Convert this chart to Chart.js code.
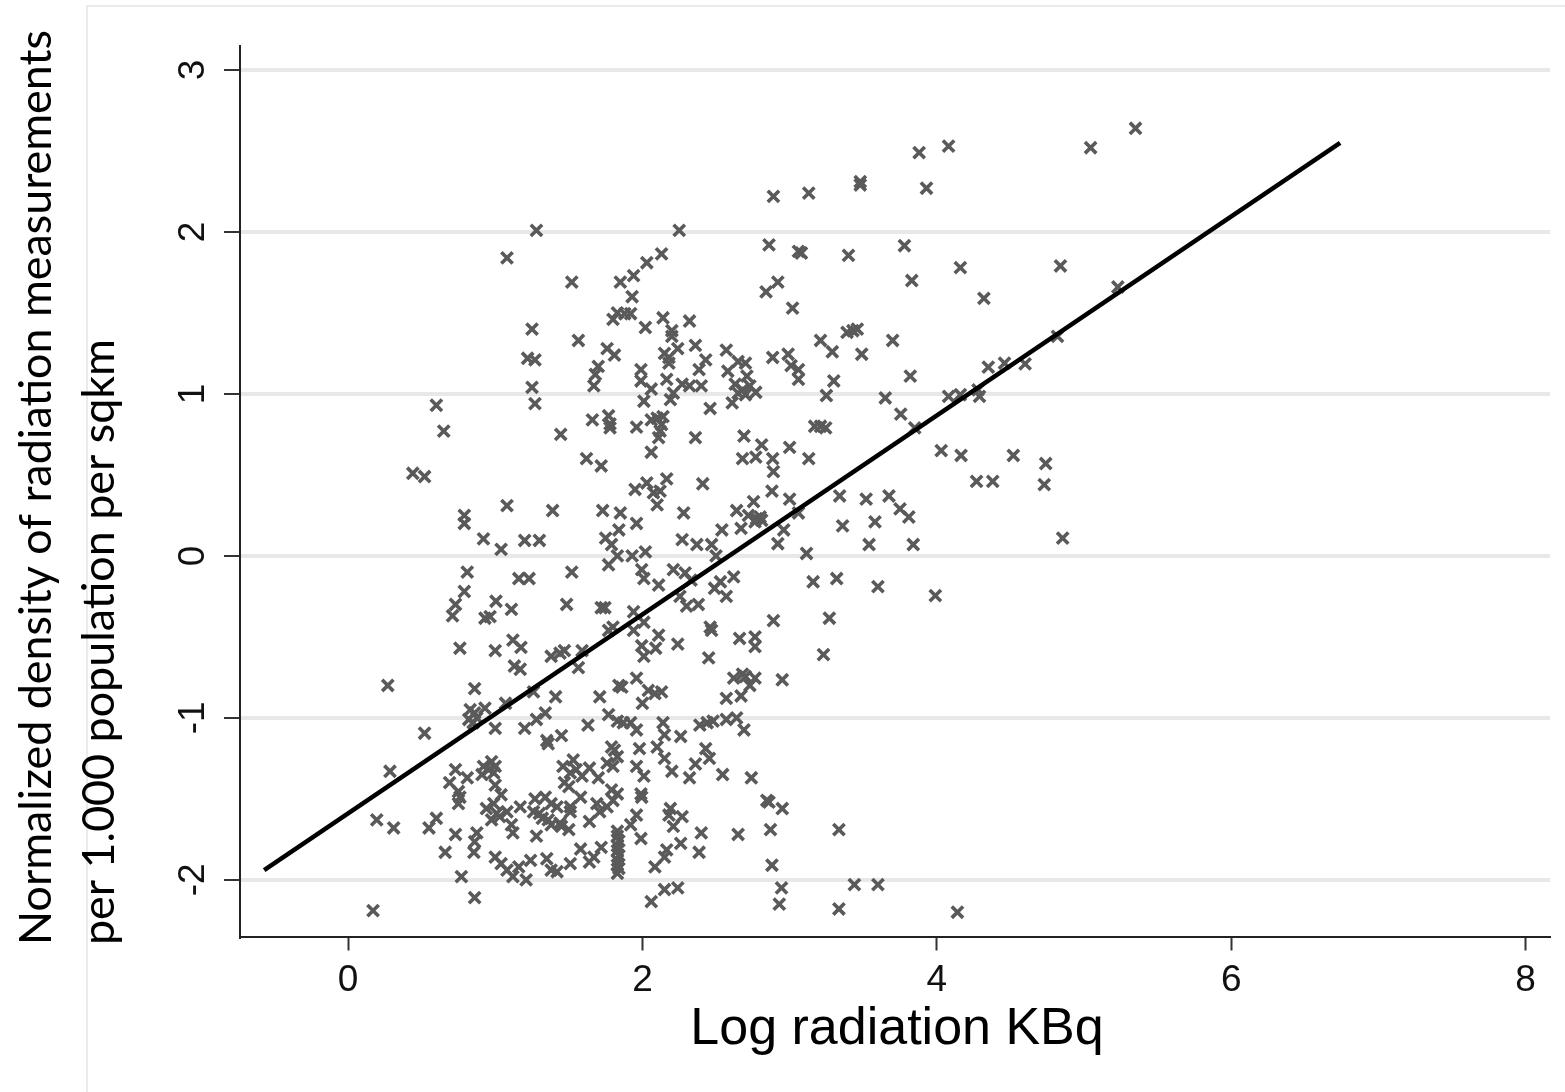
<!DOCTYPE html>
<html><head><meta charset="utf-8">
<script src="https://cdn.jsdelivr.net/npm/chart.js@4"></script>
<style>html,body{margin:0;padding:0;background:#fff}#wrap{width:1565px;height:1092px;position:relative}</style>
</head><body><div id="wrap"><canvas id="c" width="1565" height="1092"></canvas></div>
<script>
const radiationLog = [
1.28,1.08,1.52,1.85,1.25,1.565,1.80,1.83,1.76,1.81,1.22,1.27,1.70,1.68,1.25,1.67,
2.89,3.13,3.48,3.48,2.25,2.86,3.06,3.08,3.40,2.13,2.03,1.94,1.93,2.92,2.84,3.02,1.88,1.92,2.14,2.32,2.02,2.20,2.20,3.21,3.39,3.43,3.46,3.29,3.49,2.24,2.15,2.18,2.18,2.36,2.57,2.43,2.385,1.99,1.99,2.06,2.165,2.27,2.32,2.40,2.21,2.58,2.65,2.70,2.71,2.63,2.68,2.73,2.77,2.70,2.65,2.885,2.99,3.01,3.06,3.06,3.30,3.25,
3.88,4.08,3.93,5.045,5.35,3.78,3.83,4.16,4.32,4.84,5.23,3.70,3.82,4.35,4.46,4.60,4.82,3.65,4.08,4.16,4.28,4.29,
0.60,0.65,0.44,0.52,1.27,1.66,1.77,1.78,1.78,1.445,1.62,1.72,1.08,1.39,1.73,0.79,0.79,0.92,1.04,1.20,1.30,1.75,1.79,1.77,0.81,1.16,1.23,1.52,0.79,0.73,0.71,1.005,1.11,0.93,0.965,1.485,1.72,1.745,0.76,1.0,1.12,1.175,1.38,1.44,1.47,1.59,1.77,1.80,1.85,1.84,1.83,
2.01,2.19,2.46,2.61,1.96,2.06,2.10,2.14,2.13,2.12,2.11,2.06,2.36,2.69,2.81,2.68,2.77,2.885,2.89,3.0,3.13,3.17,3.21,3.245,2.88,3.0,1.95,2.03,2.075,2.12,2.10,2.165,2.41,1.96,2.28,2.64,2.755,2.72,2.775,2.80,2.81,2.765,2.67,2.54,2.27,2.37,2.47,2.50,2.92,2.96,3.06,3.34,3.52,3.36,3.58,3.54,3.115,1.93,2.02,1.995,2.01,2.11,2.21,2.29,2.33,2.255,2.30,2.38,2.49,2.53,2.57,2.62,3.16,3.32,3.60,1.94,2.01,1.94,2.46,2.47,2.89,3.27,2.11,2.09,2.24,1.995,2.01,2.66,2.765,2.765,3.23,2.45,
3.755,3.85,4.03,4.165,4.52,4.74,4.27,4.38,4.73,3.675,3.75,3.81,3.84,4.855,3.99,
0.27,0.86,1.13,1.17,1.565,1.26,1.41,1.71,1.84,0.83,0.86,0.82,0.85,0.875,0.93,1.07,1.0,1.20,0.52,1.28,1.34,1.35,1.36,1.45,1.63,1.77,1.83,1.81,0.285,0.73,0.81,0.69,0.75,0.76,0.75,0.92,0.975,1.0,0.955,0.99,0.91,1.0,1.04,0.94,0.99,1.01,0.975,1.03,1.08,1.17,1.11,1.12,0.875,0.86,0.855,0.73,0.55,0.60,0.195,0.31,0.66,0.77,0.86,0.17,1.0,1.04,1.08,1.12,1.16,1.21,1.24,1.27,1.26,1.30,1.32,1.28,1.34,1.38,1.42,1.44,1.50,1.45,1.38,1.36,1.51,1.51,1.58,1.64,1.69,1.76,1.71,1.35,1.38,1.42,1.51,1.58,1.64,1.67,1.72,1.46,1.53,1.51,1.47,1.50,1.55,1.64,1.70,1.59,1.76,1.80,1.83,1.79,1.83,1.80,1.79,
1.83,1.83,1.84,1.83,1.83,1.84,1.83,1.83,1.84,1.83,
1.96,1.86,2.04,2.085,2.13,2.0,2.62,2.68,2.70,2.765,2.73,2.95,2.57,2.67,1.87,1.92,1.96,2.14,2.15,2.26,2.39,2.44,2.48,2.57,2.64,2.69,1.98,2.10,2.15,2.20,2.43,2.455,2.36,2.32,2.545,2.74,1.96,2.01,1.99,1.995,2.845,2.86,2.95,2.19,2.18,2.21,2.27,1.96,1.92,1.99,2.40,2.65,2.87,3.335,2.26,2.385,2.165,2.15,2.085,2.88,2.15,2.24,2.06,2.945,2.93,3.335,3.44,3.60,
4.14
];
const densityNorm = [
2.01,1.84,1.69,1.69,1.40,1.33,1.46,1.50,1.28,1.24,1.22,1.21,1.17,1.12,1.04,1.05,
2.22,2.24,2.31,2.29,2.01,1.92,1.88,1.87,1.855,1.865,1.81,1.73,1.60,1.69,1.63,1.53,1.495,1.495,1.47,1.45,1.41,1.39,1.355,1.33,1.38,1.39,1.40,1.26,1.245,1.28,1.25,1.225,1.19,1.30,1.27,1.21,1.15,1.15,1.08,1.03,1.09,1.06,1.05,1.05,1.005,1.14,1.20,1.19,1.11,1.06,1.025,1.05,1.01,0.995,1.005,1.225,1.245,1.175,1.15,1.09,1.08,0.99,
2.49,2.53,2.27,2.52,2.64,1.915,1.70,1.78,1.59,1.79,1.66,1.33,1.11,1.165,1.19,1.185,1.355,0.975,0.985,0.995,1.025,0.985,
0.93,0.77,0.51,0.49,0.94,0.84,0.865,0.815,0.79,0.75,0.60,0.555,0.31,0.28,0.28,0.25,0.20,0.105,0.04,0.095,0.095,0.11,0.07,-0.055,-0.10,-0.14,-0.14,-0.10,-0.22,-0.30,-0.37,-0.28,-0.33,-0.385,-0.375,-0.30,-0.32,-0.32,-0.57,-0.585,-0.52,-0.565,-0.62,-0.60,-0.585,-0.585,-0.46,-0.44,0.265,0.16,0.0,
0.955,0.965,0.91,0.945,0.795,0.84,0.85,0.86,0.81,0.77,0.73,0.64,0.73,0.74,0.685,0.60,0.61,0.60,0.52,0.67,0.60,0.80,0.80,0.79,0.40,0.35,0.41,0.45,0.39,0.40,0.315,0.475,0.445,0.20,0.265,0.28,0.335,0.25,0.23,0.24,0.22,0.21,0.17,0.16,0.10,0.07,0.07,0.0,0.075,0.16,0.265,0.37,0.35,0.185,0.21,0.07,0.015,0.0,0.025,-0.085,-0.14,-0.18,-0.085,-0.105,-0.15,-0.25,-0.31,-0.30,-0.20,-0.16,-0.25,-0.13,-0.16,-0.14,-0.19,-0.345,-0.41,-0.46,-0.44,-0.46,-0.40,-0.385,-0.49,-0.57,-0.545,-0.555,-0.62,-0.51,-0.50,-0.56,-0.61,-0.63,
0.875,0.79,0.65,0.62,0.62,0.57,0.46,0.46,0.44,0.37,0.29,0.24,0.07,0.11,-0.245,
-0.80,-0.82,-0.68,-0.70,-0.69,-0.84,-0.87,-0.87,-0.80,-0.95,-0.97,-1.01,-1.03,-1.0,-0.94,-0.91,-1.065,-1.065,-1.095,-1.01,-0.97,-1.14,-1.16,-1.11,-1.045,-0.98,-1.02,-1.20,-1.33,-1.32,-1.37,-1.40,-1.455,-1.49,-1.53,-1.30,-1.27,-1.30,-1.32,-1.34,-1.35,-1.415,-1.475,-1.56,-1.53,-1.59,-1.63,-1.61,-1.58,-1.55,-1.66,-1.71,-1.71,-1.765,-1.83,-1.72,-1.68,-1.62,-1.63,-1.68,-1.83,-1.98,-2.11,-2.19,-1.86,-1.90,-1.94,-1.98,-1.92,-2.0,-1.88,-1.50,-1.58,-1.59,-1.62,-1.73,-1.49,-1.53,-1.55,-1.65,-1.69,-1.67,-1.66,-1.63,-1.55,-1.58,-1.49,-1.64,-1.53,-1.55,-1.58,-1.87,-1.94,-1.95,-1.90,-1.81,-1.89,-1.86,-1.80,-1.30,-1.26,-1.34,-1.40,-1.425,-1.32,-1.31,-1.37,-1.36,-1.28,-1.30,-1.24,-1.445,-1.47,-1.51,-1.18,
-1.70,-1.73,-1.76,-1.79,-1.82,-1.85,-1.88,-1.91,-1.93,-1.96,
-0.755,-0.81,-0.83,-0.85,-0.84,-0.91,-0.755,-0.73,-0.745,-0.755,-0.80,-0.765,-0.88,-0.865,-1.03,-1.03,-1.075,-1.03,-1.105,-1.115,-1.045,-1.03,-1.02,-1.01,-1.0,-1.075,-1.19,-1.18,-1.25,-1.33,-1.19,-1.25,-1.285,-1.37,-1.35,-1.37,-1.30,-1.36,-1.47,-1.49,-1.51,-1.52,-1.56,-1.56,-1.60,-1.67,-1.61,-1.60,-1.66,-1.745,-1.71,-1.72,-1.69,-1.69,-1.775,-1.83,-1.815,-1.86,-1.92,-1.91,-2.06,-2.05,-2.135,-2.05,-2.15,-2.18,-2.03,-2.03,
-2.20
];
const fitX = [-0.57, 6.74];
const fitY = [-1.94, 2.55];
const xTicks = [0, 2, 4, 6, 8];
const yTicks = [-2, -1, 0, 1, 2, 3];
const xTitle = 'Log radiation KBq';
const yTitleLines = ['Normalized density of radiation measurements', 'per 1.000 population per sqkm'];

const points = radiationLog.map((x, i) => ({x: x, y: densityNorm[i]}));
const fitLine = fitX.map((x, i) => ({x: x, y: fitY[i]}));

const decor = {
  id: 'decor',
  beforeDraw(chart) {
    const ctx = chart.ctx;
    ctx.save();
    ctx.fillStyle = '#fff';
    ctx.fillRect(0, 0, chart.width, chart.height);
    ctx.strokeStyle = '#ebebeb';
    ctx.lineWidth = 2;
    ctx.beginPath();
    ctx.moveTo(87, chart.height);
    ctx.lineTo(87, 6);
    ctx.lineTo(chart.width, 6);
    ctx.stroke();
    ctx.restore();
  },
  afterDraw(chart) {
    const ctx = chart.ctx;
    ctx.save();
    ctx.fillStyle = '#000';
    ctx.font = '52px "Liberation Sans", Arial, sans-serif';
    ctx.textAlign = 'center';
    ctx.textBaseline = 'alphabetic';
    ctx.fillText(xTitle, 897, 1044);
    ctx.font = '40px Lato, "Open Sans", sans-serif';
    const w = ctx.measureText(yTitleLines[0]).width;
    const size = 40 * 915 / w;
    ctx.font = size.toFixed(2) + 'px Lato, "Open Sans", sans-serif';
    ctx.textAlign = 'left';
    ctx.textBaseline = 'middle';
    const cx = [37, 100];
    yTitleLines.forEach((t, i) => {
      ctx.save();
      ctx.translate(cx[i], 945);
      ctx.rotate(-Math.PI / 2);
      ctx.fillText(t, 0, 0);
      ctx.restore();
    });
    ctx.restore();
  }
};

const tickFont = {family: '"Liberation Sans", Arial, sans-serif', size: 37};

new Chart(document.getElementById('c'), {
  type: 'scatter',
  data: {
    datasets: [
      {type: 'line', data: fitLine, borderColor: '#000', borderWidth: 4.5, pointRadius: 0, fill: false, order: 0, tension: 0},
      {data: points, pointStyle: 'crossRot', pointRadius: 8, pointBorderWidth: 3.6, borderWidth: 3.6, borderColor: '#5a5a5a', backgroundColor: '#5a5a5a', order: 1}
    ]
  },
  options: {
    responsive: false,
    animation: false,
    devicePixelRatio: 1,
    layout: {padding: {left: 0, right: 15, top: 46, bottom: 0}},
    plugins: {legend: {display: false}, tooltip: {enabled: false}},
    scales: {
      x: {
        type: 'linear', min: -0.734, max: 8.166,
        afterBuildTicks: s => { s.ticks = xTicks.map(v => ({value: v})); },
        afterFit: s => { s.height = 155.5; },
        grid: {drawOnChartArea: false, drawTicks: true, tickLength: 14, tickColor: '#333', tickWidth: 2},
        border: {display: true, color: '#222', width: 2},
        ticks: {font: tickFont, color: '#111', padding: 8, maxRotation: 0, minRotation: 0}
      },
      y: {
        type: 'linear', min: -2.35, max: 3.148,
        afterBuildTicks: s => { s.ticks = yTicks.map(v => ({value: v})); },
        afterFit: s => { s.width = 240; },
        grid: {color: '#e8e8e8', lineWidth: 4, drawTicks: true, tickLength: 16, tickColor: '#333', tickWidth: 2},
        border: {display: true, color: '#222', width: 2},
        ticks: {font: tickFont, color: '#111', minRotation: 90, maxRotation: 90, crossAlign: 'center', padding: 14}
      }
    }
  },
  plugins: [decor]
});
</script>
</body></html>
